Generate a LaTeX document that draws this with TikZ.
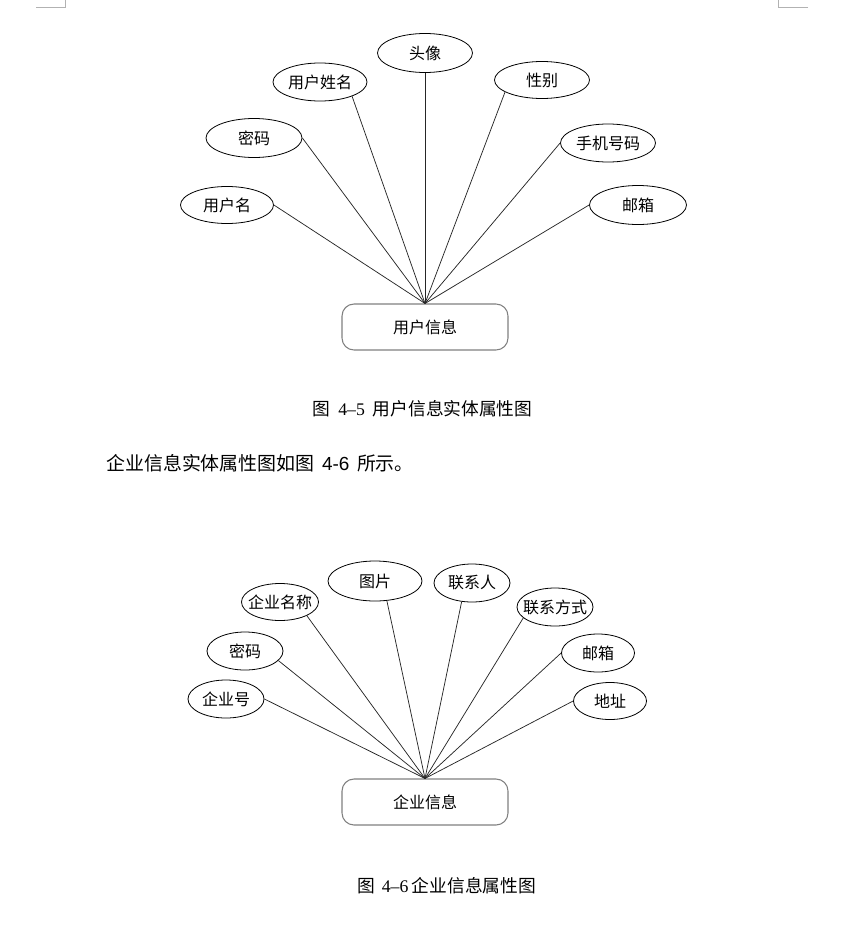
\documentclass[tikz,border=0pt]{standalone}
\usepackage{fontspec}
\setmainfont{Liberation Serif}
\newfontfamily\cjk{Noto Sans CJK SC}
\newfontfamily\lsans{Liberation Sans}
\usetikzlibrary{shapes.geometric}
\begin{document}
\begin{tikzpicture}[x=0.75pt,y=-0.75pt,
  ell/.style 2 args={ellipse,draw=black,line width=0.6pt,
    minimum width=#1*0.75pt,minimum height=#2*0.75pt,inner sep=0pt},
  etext/.style={font=\cjk\fontsize{12}{14}\selectfont,inner sep=0pt},
  ent/.style={rectangle,rounded corners=9pt,draw=black!50,line width=0.8pt,
    minimum width=166*0.75pt,minimum height=46*0.75pt,inner sep=0pt,
    font=\cjk\fontsize{12}{14}\selectfont},
  conn/.style={draw=black!85,line width=0.55pt},
  caption/.style={inner sep=0pt,font=\fontsize{13.3}{15}\selectfont},
  para/.style={inner sep=0pt,anchor=west,font=\fontsize{14.2}{16}\selectfont},
  cornermark/.style={draw=black!30,line width=0.6pt}]
\path[fill=white] (0,0) rectangle (852,928);
\useasboundingbox (0,0) rectangle (852,928);

% page corner marks
\coordinate (tl1) at (36,7); \coordinate (tl2) at (65.5,7); \coordinate (tl3) at (65.5,0);
\coordinate (tr1) at (808,7); \coordinate (tr2) at (778,7); \coordinate (tr3) at (778,0);
\draw[cornermark] (tl1) -- (tl2) -- (tl3);
\draw[cornermark] (tr1) -- (tr2) -- (tr3);

% ---------- Figure 4-5 ----------
\node[ent] (U) at (425,327) {用户信息};
\node[ell={93}{37},label={[etext]center:用户名}] (u1) at (227,205) {};
\node[ell={96}{39},label={[etext]center:密码}] (u2) at (254,138) {};
\node[ell={94}{38},label={[etext]center:用户姓名}] (u3) at (320,82) {};
\node[ell={95}{39},label={[etext]center:头像}] (u4) at (425,53) {};
\node[ell={95}{37},label={[etext]center:性别}] (u5) at (542,80) {};
\node[ell={95}{38},label={[etext]center:手机号码}] (u6) at (608,143) {};
\node[ell={97}{39},label={[etext]center:邮箱}] (u7) at (638,205) {};

\draw[conn] (U.north) -- (u1.east);
\draw[conn] (U.north) -- (u2.east);
\draw[conn] (U.north) -- (u3.-24);
\draw[conn] (U.north) -- (u4.south);
\draw[conn] (U.north) -- (u5.198);
\draw[conn] (U.north) -- (u6.west);
\draw[conn] (U.north) -- (u7.west);

\node[caption] (cap1) at (422.5,409) {{\cjk 图}\hspace{0.45em}4‒5\hspace{0.45em}{\cjk 用户信息实体属性图}};

\node[para] (p1) at (106,463) {{\cjk 企业信息实体属性图如图}\hspace{0.4em}{\lsans 4-6}\hspace{0.4em}{\cjk 所示。}};

% ---------- Figure 4-6 ----------
\node[ent] (C) at (425,802) {企业信息};
\node[ell={76}{38},label={[etext]center:企业号}] (c1) at (226,699) {};
\node[ell={76}{38},label={[etext]center:密码}] (c2) at (245,651) {};
\node[ell={77}{37},label={[etext]center:企业名称}] (c3) at (280,602) {};
\node[ell={94}{40},label={[etext]center:图片}] (c4) at (375,581) {};
\node[ell={76}{38},label={[etext]center:联系人}] (c5) at (472,583) {};
\node[ell={76}{38},label={[etext]center:联系方式}] (c6) at (555,607) {};
\node[ell={73}{38},label={[etext]center:邮箱}] (c7) at (598,653) {};
\node[ell={73}{37},label={[etext]center:地址}] (c8) at (610,701) {};

\draw[conn] (C.north) -- (c1.east);
\draw[conn] (C.north) -- (c2.-16);
\draw[conn] (C.north) -- (c3.-27);
\draw[conn] (C.north) -- (c4.-59);
\draw[conn] (C.north) -- (c5.241);
\draw[conn] (C.north) -- (c6.199);
\draw[conn] (C.north) -- (c7.west);
\draw[conn] (C.north) -- (c8.west);

\node[caption] (cap2) at (447,886) {{\cjk 图}\hspace{0.35em}4‒6\hspace{0.2em}{\cjk 企业信息属性图}};
\end{tikzpicture}
\end{document}
